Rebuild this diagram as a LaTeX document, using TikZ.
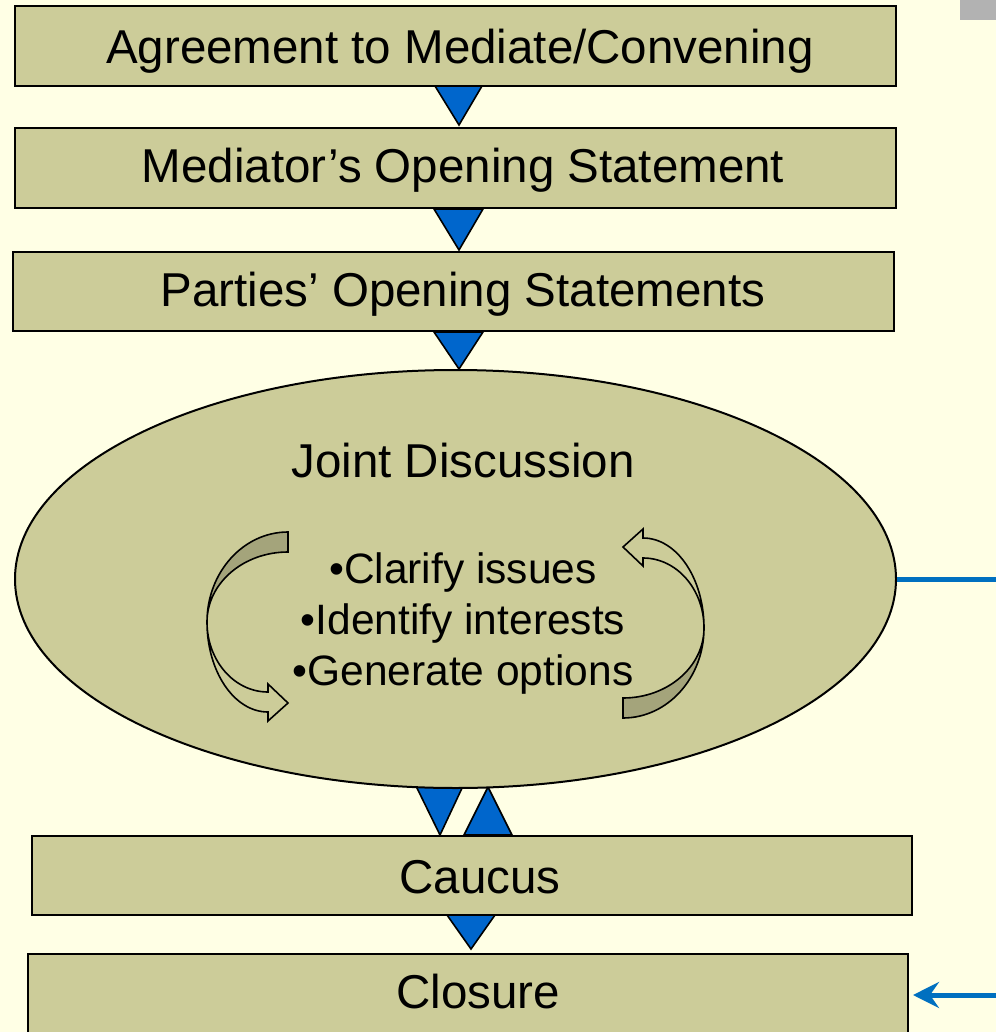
\documentclass[tikz,border=0pt]{standalone}
\usepackage{fontspec}
\setmainfont{Liberation Sans}
\usetikzlibrary{shapes.geometric,arrows.meta,calc}
\definecolor{bgc}{HTML}{FFFFE5}
\definecolor{boxc}{HTML}{CCCC99}
\definecolor{darkc}{HTML}{A4A47B}
\definecolor{trib}{HTML}{0066CC}
\definecolor{lineb}{HTML}{0070C0}
\definecolor{grayc}{HTML}{B2B2B2}
\tikzset{
  stagebox/.style={draw=black,line width=2pt,fill=boxc,rectangle,inner sep=0pt,minimum width=881pt,minimum height=80pt},
  bigtext/.style={font=\fontsize{47.5}{51}\selectfont,inner sep=0pt,anchor=base},
  bullettext/.style={font=\fontsize{42.5}{51}\selectfont,inner sep=0pt,align=center},
  tri/.style={draw=black,line width=1.6pt,fill=trib,line join=miter},
  cyc/.style={draw=black,line width=1.6pt,line join=miter},
  blueline/.style={draw=lineb,line width=5pt}
}
\begin{document}
\begin{tikzpicture}[x=1pt,y=-1pt]
\useasboundingbox (0,0) rectangle (996,1032);
\clip (0,0) rectangle (996,1032);
\fill[bgc] (0,0) rectangle (996,1032);
\fill[grayc] (960,0) rectangle (996,20);

% boxes
\node[stagebox] (b1) at (455.5,46) {};
\node[stagebox] (b2) at (455.5,168) {};
\node[stagebox,minimum height=79pt] (b3) at (453.5,291.5) {};
\node[stagebox,minimum height=79pt,minimum width=880pt] (cau) at (472,875.5) {};
\node[stagebox,minimum height=86pt,minimum width=880pt] (clo) at (468,997) {};

\node[bigtext] (t1) at (460,64) {Agreement to Mediate/Convening};
\node[bigtext] (t2) at (463,183) {Mediator’s Opening Statement};
\node[bigtext] (t3) at (463,306) {Parties’ Opening Statements};
\node[bigtext] (t5) at (480,893) {Caucus};
\node[bigtext] (t6) at (478,1008) {Closure};

% triangles between boxes
\draw[tri] (435,86) -- (482,86) -- (459,125) -- cycle;
\draw[tri] (434,209) -- (483,209) -- (459,250) -- cycle;
\draw[tri] (434,332) -- (483,332) -- (459,369) -- cycle;
\draw[tri] (416,786) -- (463,786) -- (440,835) -- cycle;
\draw[tri] (488,787) -- (512,835) -- (464,835) -- cycle;
\draw[tri] (447,915) -- (495,915) -- (471,949) -- cycle;

% joint discussion ellipse
\node[ellipse,draw=black,line width=2pt,fill=boxc,minimum width=881pt,minimum height=418pt,inner sep=0pt] (jd) at (455.5,579) {};
\node[bigtext] (t4) at (463,477) {Joint Discussion};
\node[bullettext] (bl) at (463,624) {•Clarify issues\\•Identify interests\\•Generate options};

% curved arrows
\begin{scope}
  \draw[cyc,fill=darkc] (288,532) .. controls (243.3,532) and (207,572.3) .. (207,622)
     .. controls (207,583.3) and (243.3,552) .. (288,552) -- cycle;
  \draw[cyc,fill=boxc] (207,622) .. controls (207,671.7) and (234.3,712) .. (268,712)
     -- (268,721) -- (288,703) -- (268,684) -- (268,692)
     .. controls (234.3,692) and (207,660.7) .. (207,622) -- cycle;
\end{scope}
\begin{scope}[rotate around={180:(455.5,625)}]
  \draw[cyc,fill=darkc] (288,532) .. controls (243.3,532) and (207,572.3) .. (207,622)
     .. controls (207,583.3) and (243.3,552) .. (288,552) -- cycle;
  \draw[cyc,fill=boxc] (207,622) .. controls (207,671.7) and (234.3,712) .. (268,712)
     -- (268,721) -- (288,703) -- (268,684) -- (268,692)
     .. controls (234.3,692) and (207,660.7) .. (207,622) -- cycle;
\end{scope}

% blue connectors
\coordinate (re) at (996,579);
\coordinate (rb) at (996,995);
\draw[blueline] (jd.east) -- (re);
\draw[blueline,shorten >=4pt,-{Stealth[length=26pt,width=26pt,inset=9pt]}] (rb) -- (clo.east |- rb);
\end{tikzpicture}
\end{document}
